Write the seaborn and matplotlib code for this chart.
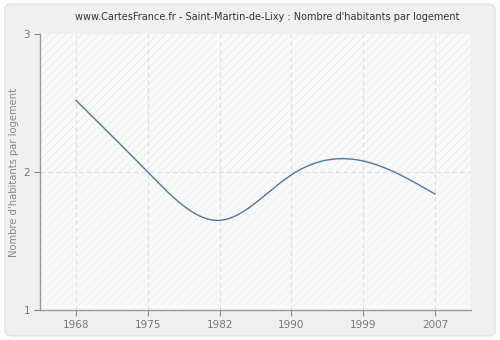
import numpy as np
import pandas as pd
import matplotlib
matplotlib.use("Agg")
import matplotlib.pyplot as plt
from matplotlib.patches import Rectangle, FancyBboxPatch
import seaborn as sns

years = ["1968", "1975", "1982", "1990", "1999", "2007"]
habitants_par_logement = [2.52, 2.00, 1.65, 1.98, 2.08, 1.84]
y_ticks = [1, 2, 3]

title = "www.CartesFrance.fr - Saint-Martin-de-Lixy : Nombre d'habitants par logement"
y_label = "Nombre d'habitants par logement"


def natural_spline(xk, yk, n=60):
    """Natural cubic spline through the given knots, for a smooth line."""
    xk = np.asarray(xk, float)
    yk = np.asarray(yk, float)
    m = len(xk)
    h = np.diff(xk)
    A = np.zeros((m, m))
    b = np.zeros(m)
    A[0, 0] = A[-1, -1] = 1
    for i in range(1, m - 1):
        A[i, i - 1] = h[i - 1]
        A[i, i] = 2 * (h[i - 1] + h[i])
        A[i, i + 1] = h[i]
        b[i] = 6 * ((yk[i + 1] - yk[i]) / h[i] - (yk[i] - yk[i - 1]) / h[i - 1])
    M = np.linalg.solve(A, b)
    xs, ys = [], []
    for i in range(m - 1):
        t = np.linspace(xk[i], xk[i + 1], n, endpoint=(i == m - 2))
        a = xk[i + 1] - t
        c = t - xk[i]
        y = (M[i] * a ** 3 + M[i + 1] * c ** 3) / (6 * h[i]) \
            + (yk[i] / h[i] - M[i] * h[i] / 6) * a \
            + (yk[i + 1] / h[i] - M[i + 1] * h[i] / 6) * c
        xs.append(t)
        ys.append(y)
    return np.concatenate(xs), np.concatenate(ys)


pos = np.arange(len(years))
sx, sy = natural_spline(pos, habitants_par_logement)
curve = pd.DataFrame({"x": sx, "y": sy})

sns.set_theme(style="white")
plt.rcParams["font.family"] = ["DejaVu Sans"]
plt.rcParams["hatch.linewidth"] = 0.5

fig = plt.figure(figsize=(5, 3.4), dpi=100)
fig.patch.set_facecolor("white")
fig.patches.append(FancyBboxPatch((0.01, 0.012), 0.98, 0.976,
                                  boxstyle="round,pad=0,rounding_size=0.015",
                                  transform=fig.transFigure, facecolor="#f0f0f0",
                                  edgecolor="#e2e2e2", linewidth=1.0, zorder=-10))

ax = fig.add_axes([0.08, 0.088, 0.862, 0.812])
ax.set_facecolor("#fbfbfb")

ax.set_xlim(-0.5, len(years) - 0.5)
ax.set_ylim(1, 3)

# hatched background bands
ax.add_patch(Rectangle((-0.5, 2), len(years), 1, facecolor="#fafafa",
                       edgecolor="#e6e6e6", hatch="////", linewidth=0, zorder=0))
ax.add_patch(Rectangle((-0.5, 1), len(years), 1, facecolor="#f9f9f9",
                       edgecolor="#f0f0f0", hatch="////", linewidth=0, zorder=0))

for p in pos:
    ax.axvline(p, color="#dedede", linestyle=(0, (4, 3)), linewidth=0.8, zorder=1)
ax.axhline(2, color="#dedede", linestyle=(0, (4, 3)), linewidth=0.8, zorder=1)

sns.lineplot(data=curve, x="x", y="y", ax=ax, color="#4a78ad", linewidth=1.0,
             zorder=3, estimator=None, sort=False)

ax.set_xticks(pos)
ax.set_xticklabels(years)
ax.set_yticks(y_ticks)
ax.set_yticklabels([str(v) for v in y_ticks])
ax.tick_params(axis="both", colors="#888888", labelcolor="#777777", labelsize=7.5,
               length=4, width=0.8, direction="out", bottom=True, left=True, pad=3)
ax.set_xlabel("")
ax.set_ylabel(y_label, color="#888888", fontsize=7.2, labelpad=3)

for side in ["top", "right"]:
    ax.spines[side].set_visible(False)
for side in ["left", "bottom"]:
    ax.spines[side].set_color("#999999")
    ax.spines[side].set_linewidth(1.0)

fig.text(0.534, 0.95, title, ha="center", va="center", fontsize=7, color="#333333")

fig.savefig("out.png", dpi=100, facecolor=fig.get_facecolor())
